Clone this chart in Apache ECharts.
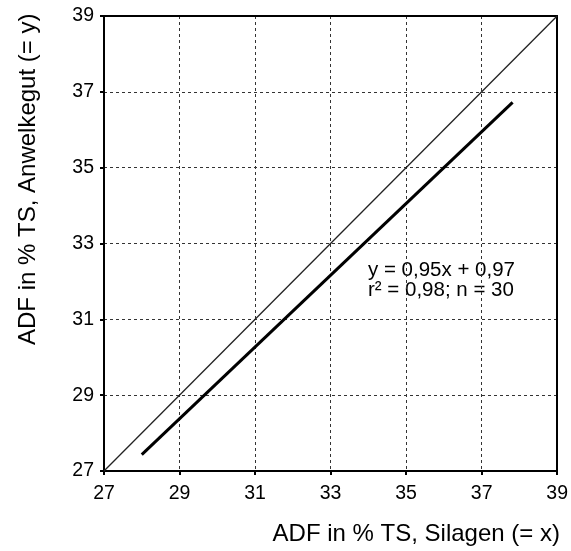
<!DOCTYPE html>
<html><head><meta charset="utf-8">
<script src="https://cdn.jsdelivr.net/npm/echarts@6/dist/echarts.min.js"></script>
<style>html,body{margin:0;padding:0;background:#fff}#c{width:571px;height:551px}</style>
</head><body><div id="c"></div>
<script>
var xTicks = [27, 29, 31, 33, 35, 37, 39];
var yTicks = [27, 29, 31, 33, 35, 37, 39];
var identityLine = [[27, 27], [39, 39]];
var regressionLine = [[28.0, 27.43], [37.82, 36.72]];
var equationText = ['y = 0,95x + 0,97', 'r² = 0,98; n = 30'];
var xTitle = 'ADF in % TS, Silagen (= x)';
var yTitle = 'ADF in % TS, Anwelkegut (= y)';

var font = 'Liberation Sans, Arial, sans-serif';
var chart = echarts.init(document.getElementById('c'));
function axis(ticks, pos) {
  return {
    type: 'value', min: ticks[0], max: ticks[ticks.length - 1], interval: 2,
    position: pos,
    axisLine: { show: true, onZero: false, lineStyle: { color: '#000', width: 2 } },
    axisTick: { show: true, length: 4, lineStyle: { color: '#000', width: 2 } },
    axisLabel: { color: '#000', fontSize: 19.5, fontFamily: font, margin: pos === 'left' ? 10 : 13 },
    splitLine: { show: true, lineStyle: { color: '#333', width: 1, type: [3, 3] } }
  };
}
var xa = axis(xTicks, 'bottom');
var ya = axis(yTicks, 'left');
var xTop = { type: 'value', min: 27, max: 39, position: 'top', axisLine: { show: true, lineStyle: { color: '#000', width: 2 } }, axisTick: { show: false }, axisLabel: { show: false }, splitLine: { show: false } };
var yRight = { type: 'value', min: 27, max: 39, position: 'right', axisLine: { show: true, lineStyle: { color: '#000', width: 2 } }, axisTick: { show: false }, axisLabel: { show: false }, splitLine: { show: false } };
chart.setOption({
  animation: false,
  grid: { left: 104, right: 11, top: 16, bottom: 80 },
  xAxis: [xa, xTop],
  yAxis: [ya, yRight],
  series: [
    { type: 'line', data: identityLine, symbol: 'none', lineStyle: { color: '#222', width: 1.3 }, z: 3 },
    { type: 'line', data: regressionLine, symbol: 'none', lineStyle: { color: '#000', width: 3 }, z: 4 }
  ],
  graphic: [
    { type: 'text', x: 368, y: 270, style: { text: equationText[0], fontSize: 20.5, fontFamily: font, fill: '#000', textVerticalAlign: 'middle' } },
    { type: 'text', x: 368, y: 290, style: { text: equationText[1], fontSize: 20.5, fontFamily: font, fill: '#000', textVerticalAlign: 'middle' } },
    { type: 'text', x: 560, y: 534, style: { text: xTitle, fontSize: 24, fontFamily: font, fill: '#000', textAlign: 'right', textVerticalAlign: 'middle' } },
    { type: 'text', x: 16, y: 345, rotation: Math.PI / 2, style: { text: yTitle, fontSize: 24, fontFamily: font, fill: '#000', textVerticalAlign: 'top' } }
  ]
});
</script></body></html>
